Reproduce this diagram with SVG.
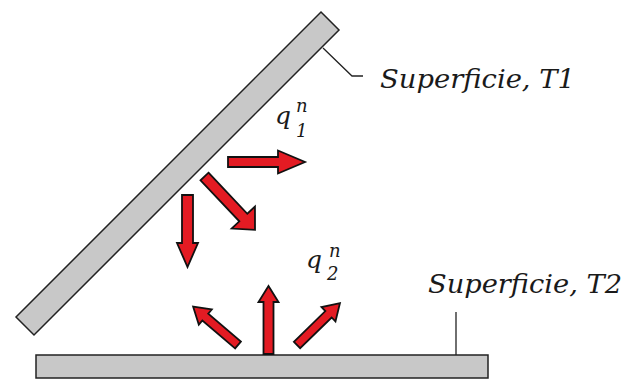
<svg xmlns="http://www.w3.org/2000/svg" width="631" height="379" viewBox="0 0 631 379">
<style>
.bar{fill:#c8c8c8;stroke:#222;stroke-width:1.5}
.arr{fill:#e31b23;stroke:#111;stroke-width:1.8;stroke-linejoin:miter}
.lead{fill:none;stroke:#222;stroke-width:1.3}
.lbl{font-family:"DejaVu Serif","Liberation Serif",serif;font-style:italic;font-size:26px;fill:#1a1a1a}
.q{font-family:"DejaVu Serif","Liberation Serif",serif;font-style:italic;fill:#1a1a1a}
</style>
<rect width="631" height="379" fill="#fff"/>
<g id="surface1">
<polygon class="bar" points="321,12 339,30 34,335 16,317"/>
</g>
<g id="surface2">
<rect class="bar" x="36" y="355" width="452" height="23"/>
</g>
<g id="connectors">
<polyline class="lead" points="323,48 352,76 363,76"/>
<line class="lead" x1="456" y1="312" x2="456" y2="355"/>
</g>
<g id="arrows1">
<polygon class="arr" transform="translate(228,162)" points="0,-5 50,-5 50,-11.5 77,0 50,11.5 50,5 0,5"/>
<polygon class="arr" transform="translate(204.5,176.5) rotate(46.6)" points="0,-5.5 56.5,-5.5 56.5,-16 73.5,0 56.5,16 56.5,5.5 0,5.5"/>
<polygon class="arr" transform="translate(187.5,195) rotate(90)" points="0,-5.5 48,-5.5 48,-10.5 72,0 48,10.5 48,5.5 0,5.5"/>
</g>
<g id="arrows2">
<polygon class="arr" transform="translate(268.5,354) rotate(-90)" points="0,-5 52,-5 52,-10 68,0 52,10 52,5 0,5"/>
<polygon class="arr" transform="translate(238,345) rotate(-139.5)" points="0,-4.5 43,-4.5 43,-10 59,0 43,10 43,4.5 0,4.5"/>
<polygon class="arr" transform="translate(297,345) rotate(-44.3)" points="0,-4.5 44,-4.5 44,-10 60,0 44,10 44,4.5 0,4.5"/>
</g>
<g id="label-t1">
<text class="lbl" x="380" y="88" textLength="195" lengthAdjust="spacingAndGlyphs">Superficie, T1</text>
</g>
<g id="label-t2">
<text class="lbl" x="428" y="293" textLength="194" lengthAdjust="spacingAndGlyphs">Superficie, T2</text>
</g>
<g id="label-q1">
<text class="q" x="275" y="124" font-size="25">q</text>
<text class="q" x="296" y="112" font-size="18">n</text>
<text class="q" x="296" y="137" font-size="18">1</text>
</g>
<g id="label-q2">
<text class="q" x="306" y="268" font-size="25">q</text>
<text class="q" x="329" y="257" font-size="18">n</text>
<text class="q" x="327" y="280" font-size="18">2</text>
</g>
</svg>
